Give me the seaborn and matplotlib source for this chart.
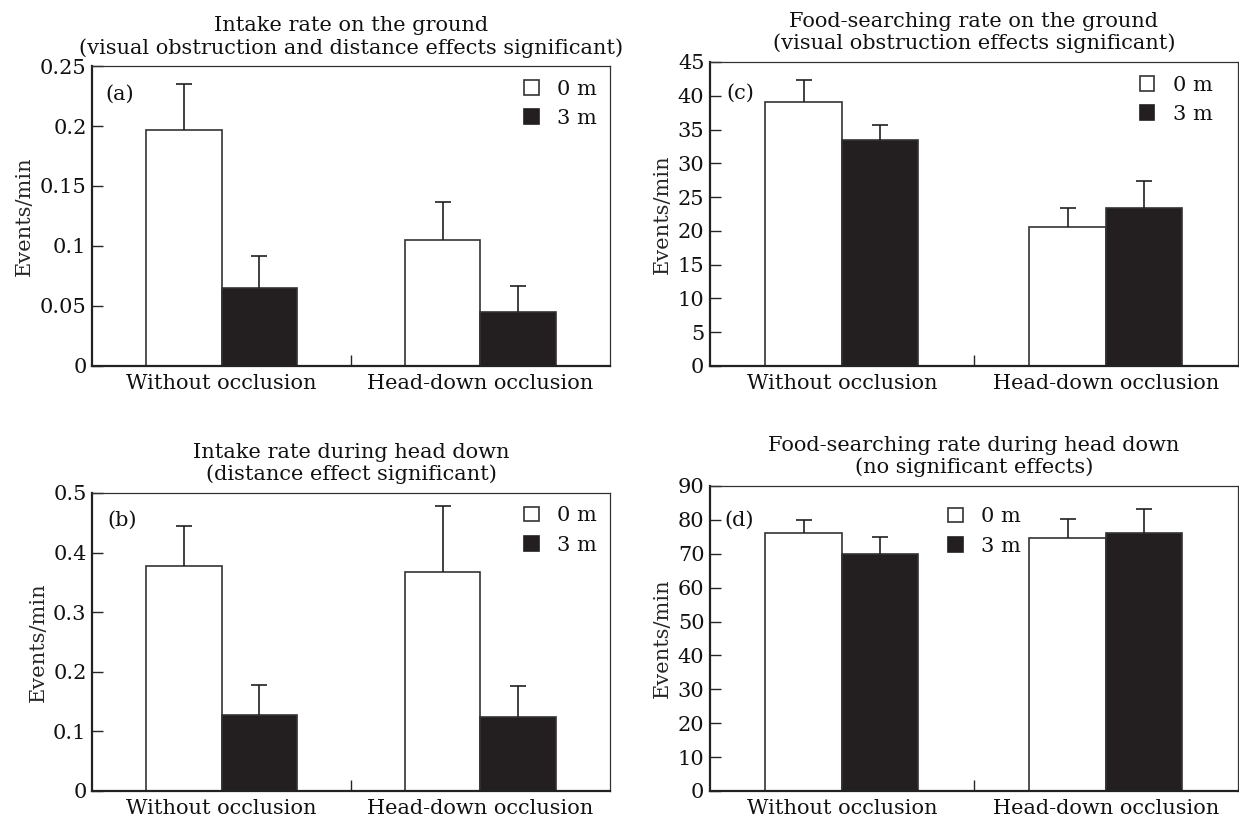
import matplotlib
matplotlib.use('Agg')
import matplotlib.pyplot as plt
import matplotlib.patches as mpatches
from matplotlib.ticker import FuncFormatter
import pandas as pd
import seaborn as sns

# ── Datos ────────────────────────────────────────────────────────────────────
CONDITIONS = ['Without occlusion', 'Head-down occlusion']
DISTANCES = ['0 m', '3 m']

# (a) Intake rate on the ground
intake_ground_0m = [0.197, 0.105]
intake_ground_3m = [0.065, 0.045]
intake_ground_err_0m = [0.038, 0.032]
intake_ground_err_3m = [0.027, 0.022]

# (b) Intake rate during head down
intake_head_0m = [0.377, 0.368]
intake_head_3m = [0.128, 0.124]
intake_head_err_0m = [0.068, 0.110]
intake_head_err_3m = [0.050, 0.052]

# (c) Food-searching rate on the ground
search_ground_0m = [39.1, 20.5]
search_ground_3m = [33.4, 23.4]
search_ground_err_0m = [3.3, 2.9]
search_ground_err_3m = [2.2, 4.0]

# (d) Food-searching rate during head down
search_head_0m = [76.1, 74.6]
search_head_3m = [69.8, 76.2]
search_head_err_0m = [4.0, 5.8]
search_head_err_3m = [5.1, 7.1]

WHITE = '#ffffff'
BLACK = '#231f20'
EDGE = '#333333'
FS = 15

sns.set_style('ticks')
plt.rcParams['font.family'] = ['DejaVu Serif']
plt.rcParams['font.size'] = FS
plt.rcParams['text.color'] = '#111111'


def make_df(v0, v3, e0, e3):
    rows = []
    for cond, v, e in zip(CONDITIONS, v0, e0):
        rows.append({'condition': cond, 'distance': DISTANCES[0], 'value': v, 'err': e})
    for cond, v, e in zip(CONDITIONS, v3, e3):
        rows.append({'condition': cond, 'distance': DISTANCES[1], 'value': v, 'err': e})
    return pd.DataFrame(rows)


PANELS = [
    dict(df=make_df(intake_ground_0m, intake_ground_3m, intake_ground_err_0m, intake_ground_err_3m),
         rect=[0.0743, 0.5553, 0.418, 0.3645], ylim=(0, 0.25), step=0.05,
         title='Intake rate on the ground\n(visual obstruction and distance effects significant)',
         tag='(a)', tag_xy=(0.054, 0.907), leg_xy=(0.834, 0.955)),
    dict(df=make_df(intake_head_0m, intake_head_3m, intake_head_err_0m, intake_head_err_3m),
         rect=[0.0743, 0.0389, 0.418, 0.3621], ylim=(0, 0.5), step=0.1,
         title='Intake rate during head down\n(distance effect significant)',
         tag='(b)', tag_xy=(0.058, 0.909), leg_xy=(0.834, 0.955)),
    dict(df=make_df(search_ground_0m, search_ground_3m, search_ground_err_0m, search_ground_err_3m),
         rect=[0.573, 0.5553, 0.426, 0.3694], ylim=(0, 45), step=5,
         title='Food-searching rate on the ground\n(visual obstruction effects significant)',
         tag='(c)', tag_xy=(0.057, 0.898), leg_xy=(0.814, 0.955)),
    dict(df=make_df(search_head_0m, search_head_3m, search_head_err_0m, search_head_err_3m),
         rect=[0.573, 0.0389, 0.426, 0.3706], ylim=(0, 90), step=10,
         title='Food-searching rate during head down\n(no significant effects)',
         tag='(d)', tag_xy=(0.055, 0.889), leg_xy=(0.451, 0.93)),
]

fig = plt.figure(figsize=(12.39, 8.23), dpi=100)

for p in PANELS:
    ax = fig.add_axes(p['rect'])
    df = p['df']
    sns.barplot(
        data=df, x='condition', y='value', hue='distance',
        order=CONDITIONS, hue_order=DISTANCES,
        palette=[WHITE, BLACK], saturation=1, width=0.58, gap=0,
        edgecolor=EDGE, linewidth=1.2, errorbar=None, legend=False, ax=ax,
    )

    # Barras de error solo hacia arriba (sin tapa inferior)
    for dist, cont in zip(DISTANCES, ax.containers):
        errs = df[df['distance'] == dist].set_index('condition').loc[CONDITIONS, 'err'].values
        xs = [b.get_x() + b.get_width() / 2 for b in cont.patches]
        ys = [b.get_height() for b in cont.patches]
        eb = ax.errorbar(xs, ys, yerr=[[0] * len(errs), errs], fmt='none',
                         ecolor=BLACK, elinewidth=1.2, capsize=5.5, capthick=1.2, zorder=1)
        eb[1][0].set_visible(False)

    ymin, ymax = p['ylim']
    ax.set_ylim(ymin, ymax)
    ax.set_xlim(-0.5, 1.5)
    n = int(round((ymax - ymin) / p['step']))
    ax.set_yticks([ymin + i * p['step'] for i in range(n + 1)])
    ax.yaxis.set_major_formatter(FuncFormatter(lambda v, _: f'{v:g}'))
    ax.set_xticks([0.5], minor=True)
    ax.tick_params(axis='y', direction='in', length=8, width=1.0, labelsize=FS, pad=4,
                   labelcolor='#111111')
    ax.tick_params(axis='x', which='major', length=0, labelsize=FS, pad=6,
                   labelcolor='#111111')
    ax.tick_params(axis='x', which='minor', direction='in', length=8, width=1.0)

    ax.set_xlabel('')
    ax.set_ylabel('Events/min', fontsize=FS)
    ax.set_title(p['title'], fontsize=FS, pad=9, linespacing=1.2)

    for side in ['left', 'bottom']:
        ax.spines[side].set_linewidth(1.6)
        ax.spines[side].set_color('#222222')
    for side in ['top', 'right']:
        ax.spines[side].set_visible(True)
        ax.spines[side].set_linewidth(0.9)
        ax.spines[side].set_color('#333333')

    ax.text(p['tag_xy'][0], p['tag_xy'][1], p['tag'], transform=ax.transAxes,
            ha='center', va='center', fontsize=FS)

    handles = [
        mpatches.Patch(facecolor=WHITE, edgecolor=EDGE, linewidth=1.2, label=DISTANCES[0]),
        mpatches.Patch(facecolor=BLACK, edgecolor=BLACK, linewidth=1.2, label=DISTANCES[1]),
    ]
    ax.legend(handles=handles, loc='upper left', bbox_to_anchor=p['leg_xy'],
              frameon=False, fontsize=FS, handlelength=0.7, handleheight=0.7,
              handletextpad=0.9, labelspacing=0.5, borderpad=0, borderaxespad=0)

fig.savefig('out.png', dpi=100)
